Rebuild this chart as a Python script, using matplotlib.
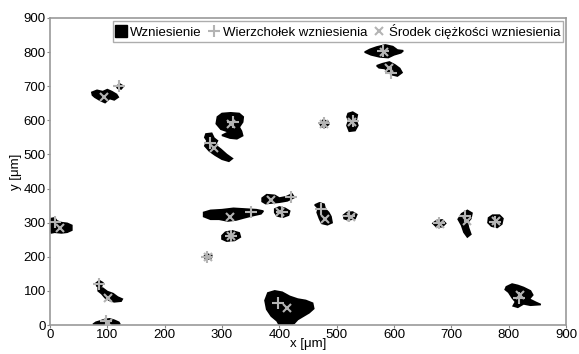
import matplotlib
matplotlib.use("Agg")
import matplotlib.pyplot as plt
from matplotlib.lines import Line2D

plt.rcParams['font.family'] = ['Liberation Sans', 'DejaVu Sans']

# kontury wzniesien (x, y w um)
wzn_A = [(2,312),(8,314),(12,305),(20,300),(30,298),(38,292),(38,278),(30,272),(20,270),(8,272),(2,270),(0,280),(0,300)]
wzn_B = [(84,110),(92,108),(100,98),(110,92),(118,82),(126,76),(124,70),(112,68),(104,72),(96,80),(90,92),(84,100)]
wzn_B2 = [(80,122),(86,130),(92,124),(90,114),(82,114)]
wzn_C = [(75,2),(80,8),(88,12),(95,16),(104,18),(112,14),(120,8),(122,2),(110,0),(90,0)]
wzn_D = [(73,682),(82,688),(92,684),(100,690),(108,684),(116,676),(119,668),(112,660),(104,664),(96,652),(88,658),(78,668),(74,674)]
wzn_D2 = [(116,700),(122,706),(128,700),(124,692),(118,694)]
wzn_E = [(292,610),(300,620),(315,622),(330,620),(337,610),(336,595),(330,580),(334,568),(336,555),(326,546),(314,548),(300,556),(312,566),(298,574),(290,590)]
wzn_F = [(272,560),(282,562),(286,548),(292,540),(288,528),(298,515),(308,500),(318,488),(312,480),(300,486),(288,498),(278,510),(270,525),(274,540),(270,550)]
wzn_G = [(268,330),(280,336),(300,338),(320,342),(340,340),(360,338),(372,334),(368,326),(352,320),(338,314),(325,308),(310,305),(295,310),(280,310),(268,318)]
wzn_H = [(300,262),(306,272),(318,276),(330,270),(332,258),(322,248),(308,246),(300,252)]
wzn_I = [(268,200),(274,208),(282,204),(280,194),(272,194)]
wzn_J = [(370,372),(378,382),(392,380),(400,372),(412,376),(422,384),(426,374),(414,364),(400,360),(388,358),(376,356),(370,362)]
wzn_K = [(392,340),(400,346),(410,342),(418,334),(416,322),(406,316),(396,320),(392,330)]
wzn_L = [(380,94),(392,100),(405,96),(418,84),(432,76),(446,72),(458,64),(460,48),(452,36),(442,26),(432,16),(426,5),(420,0),(400,0),(396,12),(386,26),(378,46),(375,72)]
wzn_M = [(462,352),(470,358),(478,354),(480,340),(486,330),(490,318),(492,300),(484,294),(474,298),(470,312),(466,330),(468,342)]
wzn_N = [(512,322),(518,330),(528,331),(535,324),(532,312),(520,308),(513,312)]
wzn_O = [(549,800),(558,808),(570,815),(585,821),(598,816),(606,806),(616,804),(612,798),(600,792),(590,784),(575,786),(560,792)]
wzn_P = [(570,760),(580,766),(592,771),(602,762),(610,752),(614,740),(606,730),(596,734),(590,742),(584,752),(574,754)]
wzn_Q = [(520,620),(528,624),(536,616),(534,600),(537,585),(532,570),(522,568),(518,585),(521,600),(518,610)]
wzn_R = [(471,590),(476,600),(484,598),(486,588),(480,580),(473,582)]
wzn_S = [(668,298),(674,306),(684,308),(690,298),(684,288),(674,288)]
wzn_T = [(712,310),(718,326),(728,336),(736,328),(734,312),(728,300),(730,285),(734,266),(728,258),(722,272),(718,292)]
wzn_U = [(765,314),(772,322),(784,322),(790,312),(788,296),(780,286),(770,290),(764,300)]
wzn_V = [(796,112),(806,120),(816,116),(826,110),(838,100),(842,88),(836,76),(848,66),(856,60),(838,58),(826,62),(816,52),(808,56),(812,68),(806,80),(800,96),(794,104)]

wzniesienia = [wzn_A, wzn_B, wzn_B2, wzn_C, wzn_D, wzn_D2, wzn_E, wzn_F, wzn_G, wzn_H, wzn_I,
               wzn_J, wzn_K, wzn_L, wzn_M, wzn_N, wzn_O, wzn_P, wzn_Q, wzn_R, wzn_S, wzn_T,
               wzn_U, wzn_V]

# wierzcholki wzniesien
wierzch_x = [9, 86, 98, 121, 320, 279, 350, 315, 274, 420, 405, 398, 472, 522, 580, 594, 528, 478, 678, 724, 776, 818]
wierzch_y = [302, 120, 12, 701, 595, 534, 330, 262, 200, 376, 330, 64, 340, 320, 802, 738, 598, 592, 298, 320, 302, 80]

# srodki ciezkosci
srodek_x = [17, 102, 102, 95, 316, 286, 314, 316, 276, 385, 402, 413, 480, 525, 582, 592, 527, 478, 680, 727, 778, 820]
srodek_y = [284, 80, 6, 668, 588, 520, 318, 260, 200, 366, 332, 50, 310, 318, 800, 752, 595, 590, 296, 305, 304, 88]

szary = '#b4b4b4'

fig = plt.figure(figsize=(5.79, 3.54), dpi=100)
ax = fig.add_axes([0.0864, 0.0819, 0.8911, 0.8673])

for wzn in wzniesienia:
    xs = [p[0] for p in wzn]
    ys = [p[1] for p in wzn]
    ax.fill(xs, ys, color='black', lw=1.2, zorder=2)

ax.plot(wierzch_x, wierzch_y, ls='none', marker='+', ms=8, mew=1.5, color=szary, zorder=3)
ax.plot(srodek_x, srodek_y, ls='none', marker='x', ms=6, mew=1.5, color=szary, zorder=3)

ax.set_xlim(0, 900)
ax.set_ylim(0, 900)
ax.set_xticks(range(0, 901, 100))
ax.set_yticks(range(0, 901, 100))
ax.tick_params(labelsize=9.5, length=2, color='#888888', pad=1)
for s in ax.spines.values():
    s.set_color('#999999')
    s.set_linewidth(1.2)

ax.set_xlabel('x [μm]', fontsize=9.5, labelpad=-2)
ax.set_ylabel('y [μm]', fontsize=9.5, labelpad=1)

uchwyty = [
    Line2D([], [], ls='none', marker='s', ms=8, color='black'),
    Line2D([], [], ls='none', marker='+', ms=8, mew=1.5, color=szary),
    Line2D([], [], ls='none', marker='x', ms=6, mew=1.5, color=szary),
]
leg = ax.legend(uchwyty, ['Wzniesienie', 'Wierzchołek wzniesienia', 'Środek ciężkości wzniesienia'],
                loc='upper right', ncol=3, fontsize=9.5, frameon=True, fancybox=False,
                handletextpad=0.3, columnspacing=0.5, handlelength=0.8,
                borderpad=0.2, borderaxespad=0.25)
leg.get_frame().set_edgecolor('#999999')
leg.get_frame().set_linewidth(1.0)

fig.savefig('out.png', dpi=100)
